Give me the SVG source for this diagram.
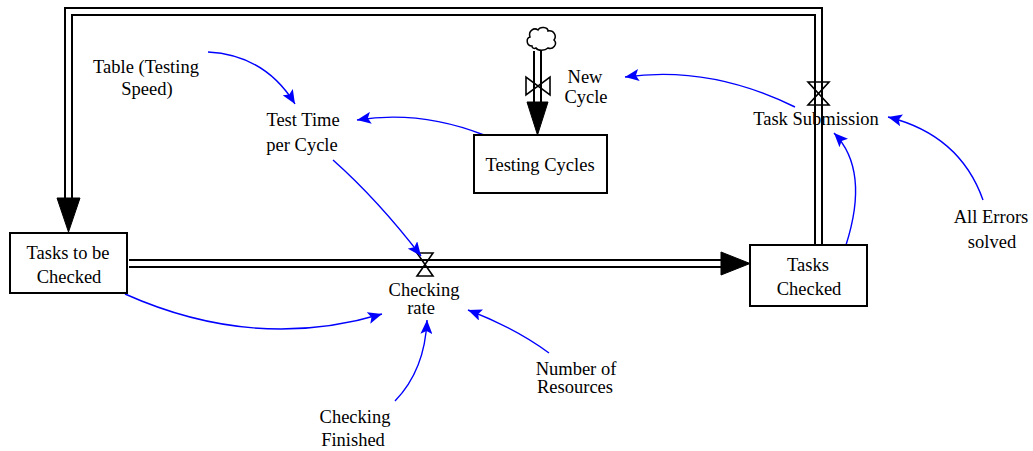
<svg xmlns="http://www.w3.org/2000/svg" width="1033" height="451" viewBox="0 0 1033 451">
<style>
text{font-family:"Liberation Serif","Times New Roman",serif;font-size:18.5px;fill:#000;text-anchor:middle}
.box{fill:#fff;stroke:#000;stroke-width:2}
.pipeo{fill:none;stroke:#000;stroke-width:9;stroke-linejoin:miter}
.pipei{fill:none;stroke:#fff;stroke-width:5;stroke-linejoin:miter}
.valve{fill:none;stroke:#000;stroke-width:1.6;stroke-linejoin:miter}
.head{fill:#000;stroke:#000;stroke-width:1}
.link{fill:none;stroke:#0000ff;stroke-width:1.4;marker-end:url(#ah)}
</style>
<defs>
<marker id="ah" markerUnits="userSpaceOnUse" markerWidth="14" markerHeight="12" refX="14" refY="6" orient="auto">
<path d="M0,0 L14,6 L0,12 L3,6 Z" fill="#0000ff"/>
</marker>
</defs>
<rect width="1033" height="451" fill="#fff"/>
<g id="flows">
<g id="flow-task-submission">
<path class="pipeo" d="M818.5,245 V11.5 H68.5 V199"/>
<path class="pipei" d="M818.5,246 V11.5 H68.5 V200"/>
<polygon class="head" points="57,198 80,198 68.5,232"/>
<path class="valve" d="M808,82 H829 L808,105 H829 Z"/>
</g>
<g id="flow-checking-rate">
<path class="pipeo" d="M129,263.5 H722"/>
<path class="pipei" d="M128,263.5 H723"/>
<polygon class="head" points="721,252 721,275 750,263.5"/>
<path class="valve" d="M417,253 H433 L417,276 H433 Z"/>
</g>
<g id="flow-new-cycle">
<path class="pipeo" d="M537.5,51 V103"/>
<path class="pipei" d="M537.5,50 V104"/>
<polygon class="head" points="527,102 548,102 537.5,135"/>
<path class="valve" d="M526,77 V95 L550,77 V95 Z"/>
<path id="cloud" fill="#fff" stroke="#000" stroke-width="1.5" d="M532,46 C526,46 526,38 530,37 C528,31 534,27 538,30 C540,26 548,27 548,31 C554,30 557,36 554,40 C558,44 553,50 548,48 C545,51 538,51 536,48 C534,49 532,48 532,46 Z"/>
</g>
</g>
<g id="connectors">
<path class="link" d="M208,52 Q265,55 295,104"/>
<path class="link" d="M484,135 Q420,110 357,120"/>
<path class="link" d="M333,160 Q378,200 421,256"/>
<path class="link" d="M795,107 Q710,65 625,77"/>
<path class="link" d="M846,245 Q870,170 834,133"/>
<path class="link" d="M983,200 Q960,135 888,117"/>
<path class="link" d="M125,294 Q255,352 382,314"/>
<path class="link" d="M395,401 Q425,370 427,320"/>
<path class="link" d="M549,353 Q515,328 468,310"/>
</g>
<g id="node-tasks-to-be-checked">
<rect class="box" x="10" y="233" width="117" height="60"/>
<text x="68" y="259">Tasks to be</text>
<text x="69" y="283">Checked</text>
</g>
<g id="node-tasks-checked">
<rect class="box" x="750" y="245" width="117" height="61"/>
<text x="808" y="271">Tasks</text>
<text x="809" y="295">Checked</text>
</g>
<g id="node-testing-cycles">
<rect class="box" x="474" y="135" width="133" height="58"/>
<text x="540" y="171">Testing Cycles</text>
</g>
<g id="node-checking-rate">
<text x="424" y="296">Checking</text>
<text x="421" y="314">rate</text>
</g>
<g id="node-task-submission">
<text x="816" y="125">Task Submission</text>
</g>
<g id="node-new-cycle">
<text x="585" y="83">New</text>
<text x="586" y="103">Cycle</text>
</g>
<g id="node-test-time">
<text x="303" y="126">Test Time</text>
<text x="302" y="151">per Cycle</text>
</g>
<g id="node-table">
<text x="146" y="73">Table (Testing</text>
<text x="147" y="95">Speed)</text>
</g>
<g id="node-all-errors">
<text x="991" y="223">All Errors</text>
<text x="992" y="248">solved</text>
</g>
<g id="node-number-of-resources">
<text x="576" y="375">Number of</text>
<text x="575" y="393">Resources</text>
</g>
<g id="node-checking-finished">
<text x="355" y="423">Checking</text>
<text x="353" y="446">Finished</text>
</g>
</svg>
